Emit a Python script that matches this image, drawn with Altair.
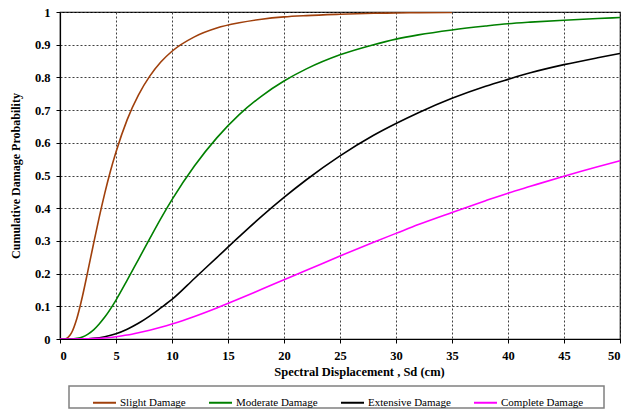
import altair as alt
import pandas as pd

# ---- data ----
slight_x = [0, 0.5, 0.75, 1, 1.5, 2, 2.5, 3, 3.5, 4, 4.5, 5, 6, 7, 8, 9, 10, 12, 14, 16, 18, 20, 22, 25, 28, 30, 32, 35]
slight_y = [0, 0.001, 0.006, 0.017, 0.062, 0.130, 0.210, 0.292, 0.372, 0.446, 0.513, 0.572, 0.671, 0.746, 0.803,
            0.847, 0.880, 0.924, 0.951, 0.967, 0.978, 0.985, 0.989, 0.993, 0.996, 0.997, 0.998, 0.999]

moderate_x = [0, 1, 1.5, 2, 2.5, 3, 3.5, 4, 5, 6, 7, 8, 9, 10, 12, 14, 16, 18, 20, 22, 25, 28, 30, 32, 35, 38, 40, 42, 45, 48, 50]
moderate_y = [0, 0.0003, 0.002, 0.006, 0.015, 0.028, 0.046, 0.067, 0.119, 0.180, 0.243, 0.306, 0.368, 0.426, 0.529,
              0.615, 0.686, 0.743, 0.789, 0.826, 0.869, 0.900, 0.917, 0.930, 0.945, 0.957, 0.964, 0.969, 0.975,
              0.980, 0.983]

extensive_x = [0, 2, 3, 4, 5, 6, 7, 8, 9, 10, 12, 14, 16, 18, 20, 22, 25, 28, 30, 32, 35, 38, 40, 42, 45, 48, 50]
extensive_y = [0, 0.0003, 0.002, 0.007, 0.016, 0.030, 0.048, 0.070, 0.095, 0.121, 0.185, 0.249, 0.313, 0.375, 0.433,
               0.487, 0.560, 0.623, 0.659, 0.692, 0.736, 0.773, 0.794, 0.814, 0.839, 0.860, 0.873]

complete_x = [0, 2, 3, 4, 5, 6, 7, 8, 9, 10, 12, 14, 16, 18, 20, 22, 25, 28, 30, 32, 35, 38, 40, 42, 45, 48, 50]
complete_y = [0, 0.0003, 0.001, 0.003, 0.007, 0.012, 0.019, 0.027, 0.036, 0.046, 0.069, 0.095, 0.123, 0.152, 0.181,
              0.210, 0.254, 0.296, 0.323, 0.350, 0.387, 0.423, 0.446, 0.467, 0.498, 0.527, 0.545]

series_names = ["Slight Damage", "Moderate Damage", "Extensive Damage", "Complete Damage"]
series_colors = ["#A0400C", "#008000", "#000000", "#FF00FF"]
x_ticks = [0, 5, 10, 15, 20, 25, 30, 35, 40, 45, 50]
y_ticks = [0, 0.1, 0.2, 0.3, 0.4, 0.5, 0.6, 0.7, 0.8, 0.9, 1]

rows = []
for name, xs, ys in zip(series_names,
                        [slight_x, moderate_x, extensive_x, complete_x],
                        [slight_y, moderate_y, extensive_y, complete_y]):
    for i, (a, b) in enumerate(zip(xs, ys)):
        rows.append({"series": name, "sd": a, "p": b, "order": i})
df = pd.DataFrame(rows)

FONT = "'Times New Roman', 'Liberation Serif', 'DejaVu Serif', serif"

lines = alt.Chart(df).mark_line(strokeWidth=1.6, interpolate="monotone", clip=True).encode(
    x=alt.X("sd:Q", scale=alt.Scale(domain=[0, 50], nice=False),
            axis=alt.Axis(values=x_ticks, format="~g", title="Spectral Displacement , Sd (cm)", titleX=299,
                          titlePadding=4, labelFont=FONT, titleFont=FONT)),
    y=alt.Y("p:Q", scale=alt.Scale(domain=[0, 1], nice=False),
            axis=alt.Axis(values=y_ticks, format="~g", title="Cumulative Damage Probability", titlePadding=12,
                          labelFont=FONT, titleFont=FONT)),
    color=alt.Color("series:N", scale=alt.Scale(domain=series_names, range=series_colors),
                    legend=alt.Legend(title=None, orient="none", legendX=32, legendY=378,
                                      direction="horizontal", columns=4, symbolType="stroke",
                                      symbolSize=529, symbolStrokeWidth=2, labelOffset=3,
                                      columnPadding=19, padding=0,
                                      labelFont=FONT, labelFontSize=11, labelColor="black")),
    order="order:Q",
)

box = alt.Chart(alt.Data(values=[{}])).mark_rect(fill="white", stroke="#808080", strokeWidth=1.5).encode(
    x=alt.value(9), x2=alt.value(544), y=alt.value(374), y2=alt.value(396)
)

chart = alt.layer(box, lines).properties(
    width=560, height=327,
    padding={"left": 60, "top": 12, "right": 4, "bottom": 70},
    autosize=alt.AutoSizeParams(type="none"),
).configure_view(stroke="black", strokeWidth=1.2).configure_axis(
    grid=True, gridColor="#404040", gridDash=[2, 2], gridWidth=1, gridOpacity=1,
    domainColor="black", domainWidth=1.2, tickColor="black", tickSize=4,
    labelFont=FONT, labelFontSize=12.5, labelFontWeight="bold", labelColor="black",
    titleFont=FONT, titleFontSize=12.5, titleFontWeight="bold", titleColor="black",
).configure_axisX(labelPadding=6).configure_axisY(labelPadding=6, titleFontSize=12)

chart.save("out.html", embed_options={"renderer": "svg", "actions": False})
